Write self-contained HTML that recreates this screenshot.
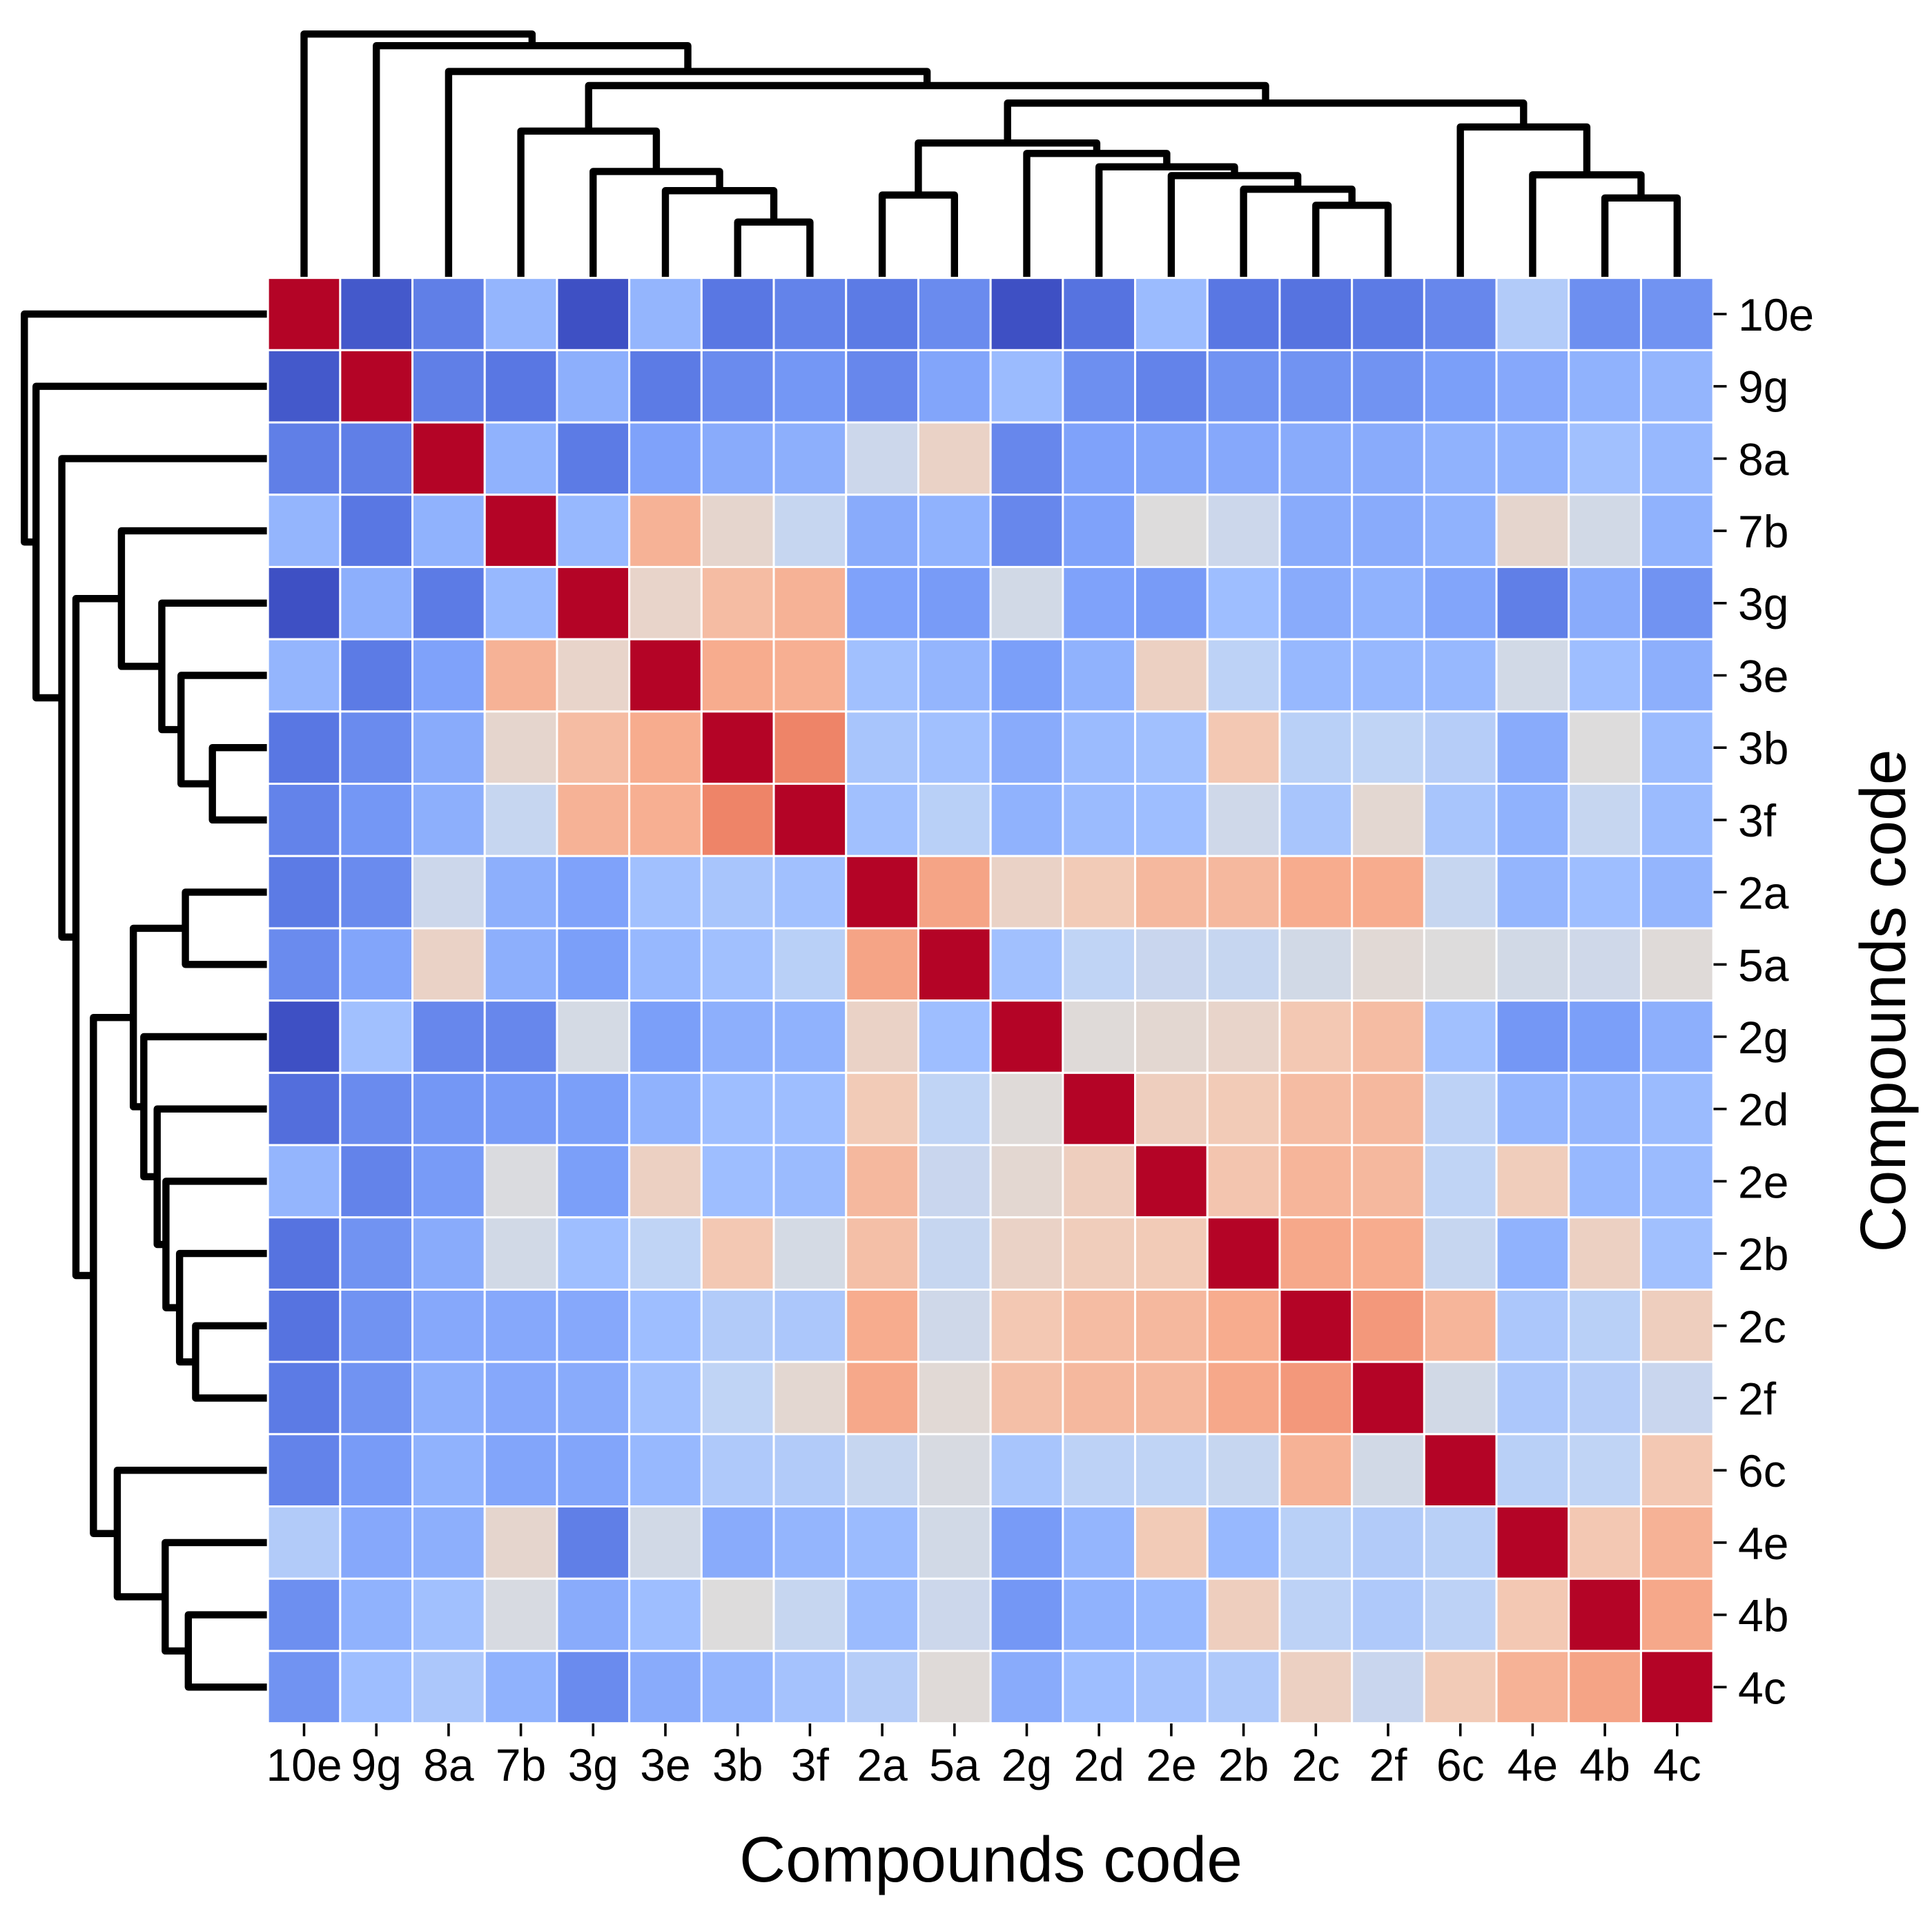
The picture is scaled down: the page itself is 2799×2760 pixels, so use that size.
<!DOCTYPE html>
<html lang="en">
<head>
<meta charset="utf-8">
<title>Compounds clustermap</title>
<style>
  html, body { margin: 0; padding: 0; background: #fff; }
  svg { display: block; }
  text { font-family: "Liberation Sans", Arial, sans-serif; fill: #000; }
</style>
</head>
<body>
<svg id="chart" xmlns="http://www.w3.org/2000/svg" width="2799" height="2760" viewBox="0 0 2799 2760">
  <rect x="0" y="0" width="2799" height="2760" fill="#ffffff"></rect>
  <g id="top-dendrogram" fill="none" stroke="#000" stroke-width="10.4" stroke-linejoin="round" stroke-linecap="butt"></g>
  <g id="left-dendrogram" fill="none" stroke="#000" stroke-width="10.4" stroke-linejoin="round" stroke-linecap="butt"></g>
  <g id="heatmap" stroke="#ffffff" stroke-width="3"></g>
  <g id="x-ticks" stroke="#000" stroke-width="3.6"></g>
  <g id="y-ticks" stroke="#000" stroke-width="3.6"></g>
  <g id="x-labels" font-size="66" text-anchor="middle"></g>
  <g id="y-labels" font-size="66"></g>
  <text x="1435.5" y="2726" font-size="93" text-anchor="middle">Compounds code</text>
  <text transform="translate(2760,1450) rotate(-90)" font-size="93" text-anchor="middle">Compounds code</text>
</svg>
<script>
// Categories (leaf order of the clustering)
const categories = ["10e","9g","8a","7b","3g","3e","3b","3f","2a","5a","2g","2d","2e","2b","2c","2f","6c","4e","4b","4c"];

// Heatmap values on the colour scale (0 = deepest blue, 1 = deepest red), by row
const row10e = [1,.03,.12,.27,.01,.27,.10,.13,.11,.15,.01,.09,.29,.10,.09,.11,.14,.36,.16,.17];
const row9g  = [.03,1,.12,.10,.25,.11,.15,.18,.14,.22,.29,.16,.13,.17,.17,.17,.20,.23,.26,.27];
const row8a  = [.12,.12,1,.26,.11,.21,.24,.25,.44,.56,.14,.21,.22,.23,.24,.24,.26,.26,.31,.28];
const row7b  = [.27,.10,.26,1,.28,.68,.54,.42,.24,.26,.14,.21,.50,.44,.24,.24,.26,.54,.46,.26];
const row3g  = [.01,.25,.11,.28,1,.55,.65,.68,.21,.19,.46,.21,.19,.30,.24,.26,.22,.12,.24,.17];
const row3e  = [.27,.11,.21,.68,.55,1,.70,.69,.31,.27,.20,.26,.57,.39,.28,.28,.28,.46,.30,.25];
const row3b  = [.10,.15,.24,.54,.65,.70,1,.80,.33,.31,.24,.29,.31,.61,.38,.40,.37,.24,.50,.29];
const row3f  = [.13,.18,.25,.42,.68,.69,.80,1,.31,.38,.26,.29,.30,.45,.33,.53,.33,.26,.42,.29];
const row2a  = [.11,.15,.44,.25,.21,.31,.33,.31,1,.72,.56,.60,.66,.66,.70,.70,.42,.27,.30,.27];
const row5a  = [.15,.22,.56,.25,.20,.28,.31,.38,.72,1,.31,.40,.43,.42,.46,.52,.50,.46,.45,.51];
const row2g  = [.01,.31,.14,.14,.47,.20,.25,.26,.56,.30,1,.51,.53,.55,.61,.65,.31,.18,.20,.25];
const row2d  = [.08,.15,.18,.19,.20,.26,.30,.30,.60,.40,.51,1,.58,.60,.65,.66,.39,.27,.27,.29];
const row2e  = [.27,.13,.19,.49,.20,.57,.30,.29,.66,.43,.53,.58,1,.62,.67,.66,.40,.59,.28,.29];
const row2b  = [.09,.17,.24,.46,.30,.40,.61,.47,.64,.42,.56,.59,.60,1,.71,.70,.42,.26,.57,.31];
const row2c  = [.09,.17,.23,.23,.23,.30,.36,.34,.70,.45,.61,.65,.66,.70,1,.75,.67,.34,.38,.58];
const row2f  = [.11,.17,.25,.23,.24,.31,.40,.53,.71,.52,.64,.66,.66,.71,.75,1,.46,.34,.37,.43];
const row6c  = [.13,.19,.26,.22,.22,.28,.35,.36,.42,.48,.33,.39,.40,.42,.68,.46,1,.38,.40,.61];
const row4e  = [.36,.23,.25,.54,.12,.46,.24,.27,.29,.46,.19,.27,.60,.28,.38,.36,.38,1,.61,.68];
const row4b  = [.16,.26,.31,.48,.24,.30,.50,.42,.29,.44,.18,.26,.28,.58,.39,.35,.39,.61,1,.71];
const row4c  = [.17,.30,.34,.26,.15,.24,.27,.32,.37,.51,.24,.30,.32,.35,.57,.43,.60,.68,.72,1];
const heatValues = [row10e,row9g,row8a,row7b,row3g,row3e,row3b,row3f,row2a,row5a,row2g,row2d,row2e,row2b,row2c,row2f,row6c,row4e,row4b,row4c];

// Linkage: merge k creates node 20+k from two children, at a relative distance
const mergeLeft     = [6,5,4,3,8,14,13,12,11,10,24,18,17,16,30,23,2,1,0];
const mergeRight    = [7,20,21,22,9,15,25,26,27,28,29,19,31,32,33,34,35,36,37];
const mergeDistance = [.227,.356,.435,.601,.338,.296,.362,.418,.454,.509,.552,.326,.421,.618,.716,.788,.846,.952,1];

const SVGNS = "http://www.w3.org/2000/svg";
const CELL_X = 104.7, CELL_Y = 104.7;
const GRID_LEFT = 388.15, GRID_TOP = 402.65;
const TOP_BASE = 401.7, LEFT_BASE = 387.7, DEND_LEN = 352.4;

// Axis functions
function xEdge(i) { return GRID_LEFT + CELL_X * i; }
function yEdge(i) { return GRID_TOP + CELL_Y * i; }
function xCenter(i) { return xEdge(i + 0.5); }
function yCenter(i) { return yEdge(i + 0.5); }
function distTop(d) { return TOP_BASE - d * DEND_LEN; }
function distLeft(d) { return LEFT_BASE - d * DEND_LEN; }

// matplotlib "coolwarm" colour ramp
const rampStops = [[59,76,192],[89,119,227],[123,159,249],[158,190,255],[192,212,245],[221,220,220],[242,203,183],[247,172,142],[238,132,104],[214,82,68],[180,4,38]];
function colorFor(v) {
  const t = Math.max(0, Math.min(1, v)) * (rampStops.length - 1);
  const a = Math.min(Math.floor(t), rampStops.length - 2);
  const f = t - a;
  const c = rampStops[a].map(function (s, k) { return Math.round(s + (rampStops[a + 1][k] - s) * f); });
  return "rgb(" + c.join(",") + ")";
}

// Heatmap cells
const heatGroup = document.getElementById("heatmap");
heatValues.forEach(function (row, r) {
  row.forEach(function (v, c) {
    const el = document.createElementNS(SVGNS, "rect");
    el.setAttribute("x", xEdge(c).toFixed(2));
    el.setAttribute("y", yEdge(r).toFixed(2));
    el.setAttribute("width", CELL_X);
    el.setAttribute("height", CELL_Y);
    el.setAttribute("fill", colorFor(v));
    
    
    heatGroup.appendChild(el);
  });
});

// Ticks and labels
const xTickGroup = document.getElementById("x-ticks");
const yTickGroup = document.getElementById("y-ticks");
const xLabelGroup = document.getElementById("x-labels");
const yLabelGroup = document.getElementById("y-labels");
categories.forEach(function (name, i) {
  const xt = document.createElementNS(SVGNS, "line");
  xt.setAttribute("x1", xCenter(i).toFixed(2));
  xt.setAttribute("x2", xCenter(i).toFixed(2));
  xt.setAttribute("y1", 2497);
  xt.setAttribute("y2", 2515.5);
  
  
  xTickGroup.appendChild(xt);

  const yt = document.createElementNS(SVGNS, "line");
  yt.setAttribute("x1", 2482.5);
  yt.setAttribute("x2", 2501.5);
  yt.setAttribute("y1", yCenter(i).toFixed(2));
  yt.setAttribute("y2", yCenter(i).toFixed(2));
  
  
  yTickGroup.appendChild(yt);

  const xl = document.createElementNS(SVGNS, "text");
  xl.setAttribute("x", xCenter(i).toFixed(2));
  xl.setAttribute("y", 2580);
  xl.textContent = name;
  
  
  xLabelGroup.appendChild(xl);

  const yl = document.createElementNS(SVGNS, "text");
  yl.setAttribute("x", 2518);
  yl.setAttribute("y", (yCenter(i) + 24).toFixed(2));
  yl.textContent = name;
  
  
  yLabelGroup.appendChild(yl);
});

// Dendrograms: position each node along the leaf axis from its children
const nodePos = categories.map(function (_, i) { return i + 0.5; });
const nodeDist = categories.map(function () { return 0; });
mergeLeft.forEach(function (a, k) {
  const b = mergeRight[k];
  nodePos.push((nodePos[a] + nodePos[b]) / 2);
  nodeDist.push(mergeDistance[k]);
});
const topGroup = document.getElementById("top-dendrogram");
const leftGroup = document.getElementById("left-dendrogram");
mergeLeft.forEach(function (a, k) {
  const b = mergeRight[k];
  const d = mergeDistance[k];
  const pa = nodePos[a], pb = nodePos[b];
  const da = nodeDist[a], db = nodeDist[b];

  const tp = document.createElementNS(SVGNS, "polyline");
  tp.setAttribute("points", [
    [xEdge(pa), distTop(da)], [xEdge(pa), distTop(d)],
    [xEdge(pb), distTop(d)], [xEdge(pb), distTop(db)]
  ].map(function (q) { return q[0].toFixed(2) + "," + q[1].toFixed(2); }).join(" "));
  
  
  topGroup.appendChild(tp);

  const lp = document.createElementNS(SVGNS, "polyline");
  lp.setAttribute("points", [
    [distLeft(da), yEdge(pa)], [distLeft(d), yEdge(pa)],
    [distLeft(d), yEdge(pb)], [distLeft(db), yEdge(pb)]
  ].map(function (q) { return q[0].toFixed(2) + "," + q[1].toFixed(2); }).join(" "));
  
  
  leftGroup.appendChild(lp);
});
</script>
</body>
</html>
